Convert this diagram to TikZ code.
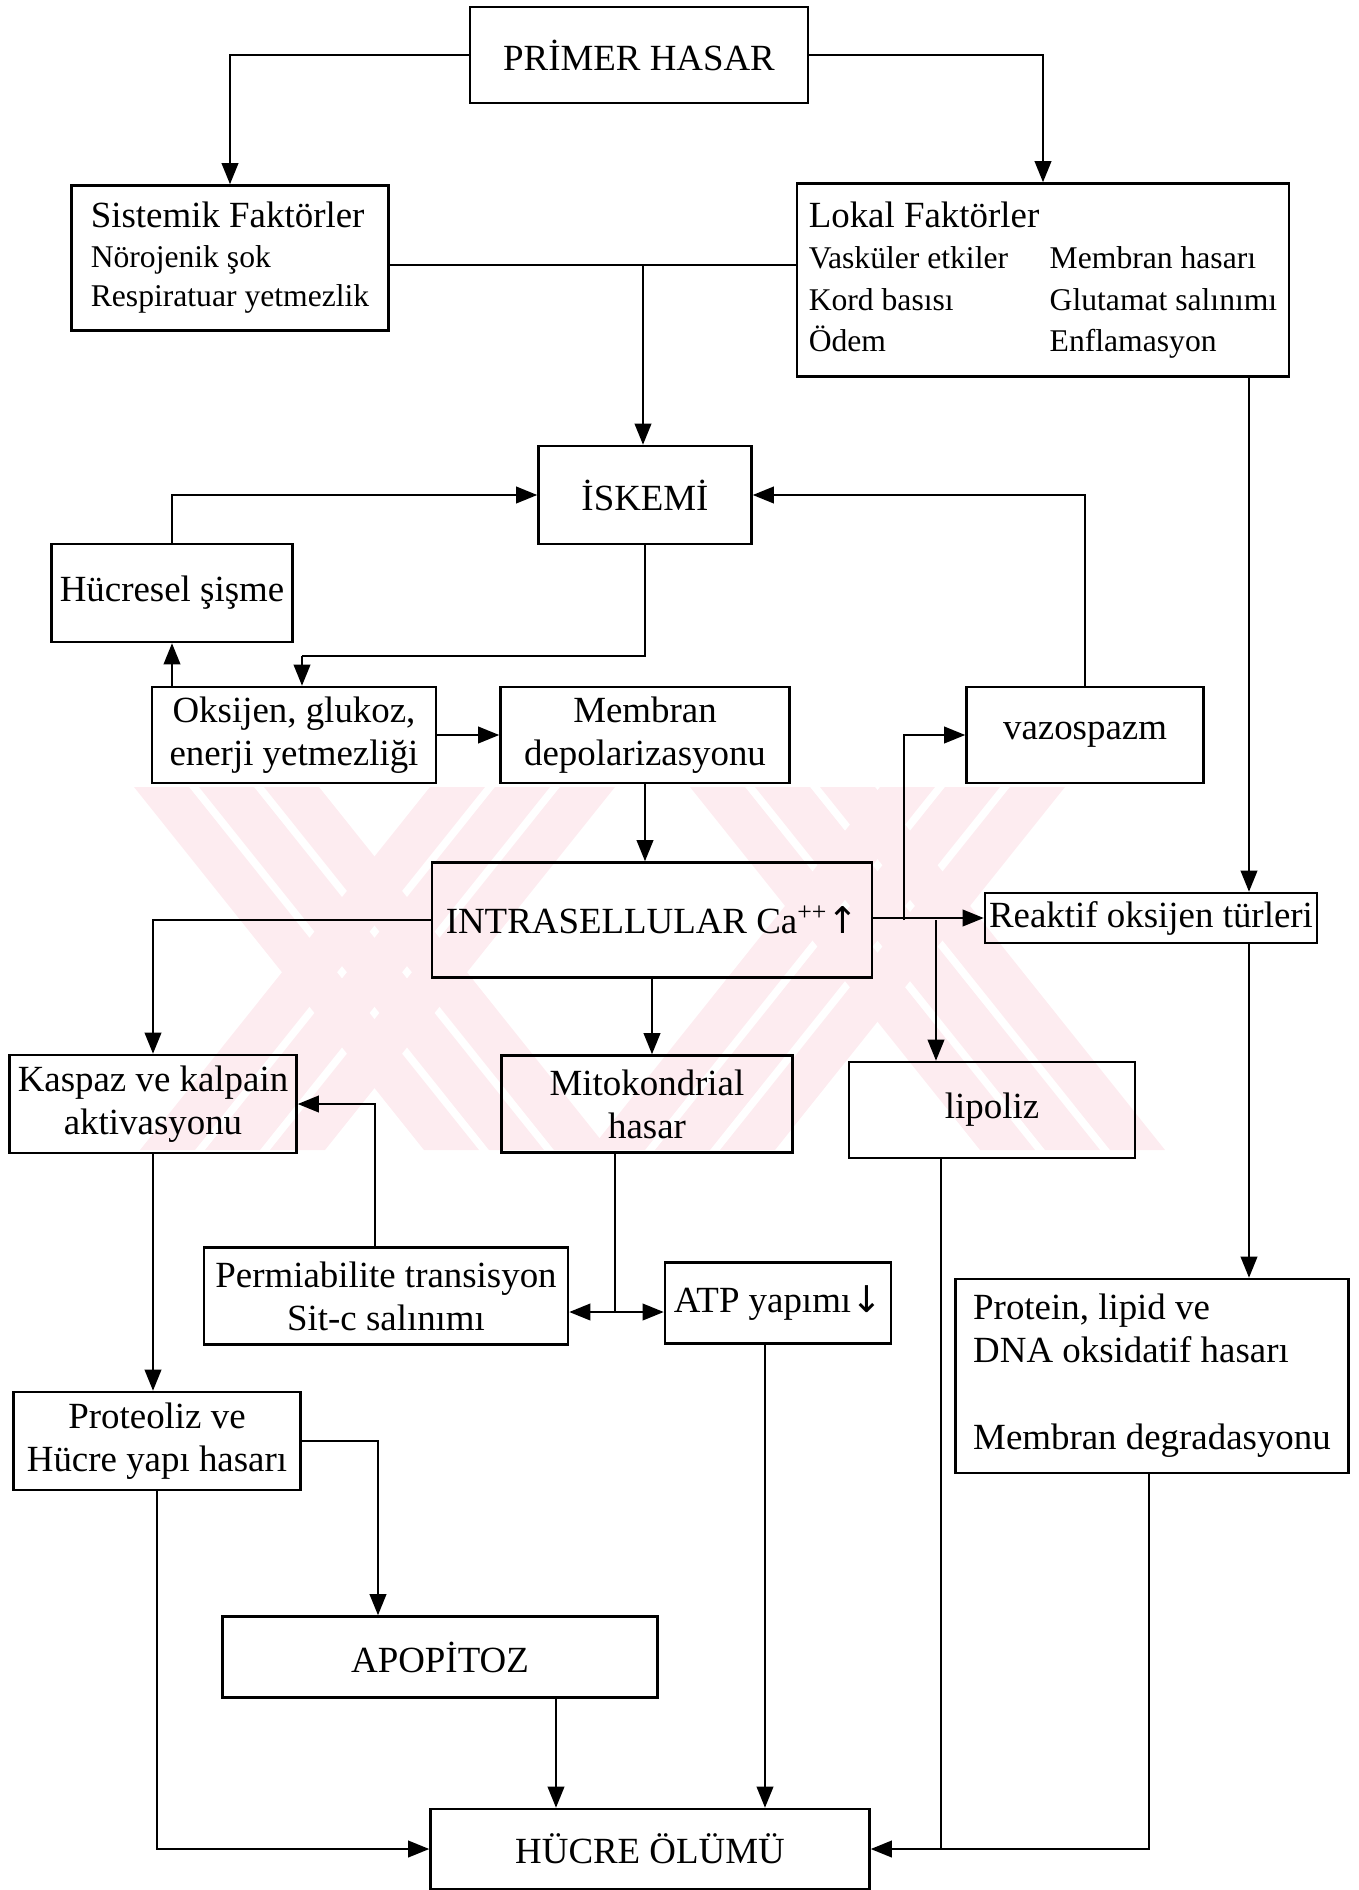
\documentclass[tikz,border=0pt]{standalone}
\usepackage{fontspec}
\setmainfont{Liberation Serif}
\newfontfamily\arrowfont{DejaVu Sans}
\usetikzlibrary{arrows.meta}
\definecolor{wmpink}{RGB}{253,236,240}

\begin{document}
\begin{tikzpicture}[x=0.02cm, y=-0.02cm,
    box/.style={draw, line width=1.5pt, inner sep=2pt, align=center, font=\fontsize{21}{24.5}\selectfont},
    link/.style={line width=1pt},
    arr/.style={link, -{Triangle[length=12pt, width=9.5pt]}},
    dblarr/.style={link, {Triangle[length=12pt, width=9.5pt]}-{Triangle[length=12pt, width=9.5pt]}}]
    \useasboundingbox (0,0) rectangle (1359,1890);
    \foreach \xa/\xb in {134/424, 430/140, 690/980, 880/590} {
        \foreach \o in {0,65,130} {
            \fill[wmpink] ({\xa+\o},787) -- ({\xa+\o+55},787) -- ({\xb+\o+55},1150) -- ({\xb+\o},1150) -- cycle;
        }
    }
    \node[box, minimum width=6.76cm, minimum height=1.92cm] (primer) at (639,55) {PRİMER HASAR};
    \node[box, align=left, minimum width=6.34cm, minimum height=2.9cm, font=\fontsize{18}{22.5}\selectfont] (sistemik) at (230,258)
        {{\fontsize{21}{22}\selectfont Sistemik Faktörler}\\Nörojenik şok\\Respiratuar yetmezlik};
    \node[box, align=left, minimum width=9.84cm, minimum height=3.86cm, font=\fontsize{18}{23.5}\selectfont] (lokal) at (1043,280)
        {{\fontsize{21}{22}\selectfont Lokal Faktörler}\\
         \makebox[4.82cm][l]{Vasküler etkiler}Membran hasarı\\
         \makebox[4.82cm][l]{Kord basısı}Glutamat salınımı\\
         \makebox[4.82cm][l]{Ödem}Enflamasyon};
    \node[box, minimum width=4.26cm, minimum height=1.96cm] (iskemi) at (645,495) {İSKEMİ};
    \node[box, minimum width=4.82cm, minimum height=1.96cm] (hucresel) at (172,593) {Hücresel şişme};
    \node[box, minimum width=5.68cm, minimum height=1.92cm] (oksijen) at (294,735) {Oksijen, glukoz,\\enerji yetmezliği};
    \node[box, minimum width=5.78cm, minimum height=1.92cm] (membran) at (645,735) {Membran\\depolarizasyonu};
    \node[box, minimum width=4.74cm, minimum height=1.92cm] (vazospazm) at (1085,735) {vazospazm};
    \node[box, minimum width=8.8cm, minimum height=2.3cm] (intra) at (652,920) {INTRASELLULAR Ca\textsuperscript{++}{\arrowfont ↑}};
    \node[box, inner sep=1pt, minimum width=6.64cm, minimum height=1.0cm] (reaktif) at (1151,918) {Reaktif oksijen türleri};
    \node[box, minimum width=5.74cm, minimum height=1.96cm] (kaspaz) at (153,1104) {Kaspaz ve kalpain\\aktivasyonu};
    \node[box, minimum width=5.82cm, minimum height=1.94cm] (mito) at (647,1104) {Mitokondrial\\hasar};
    \node[box, minimum width=5.72cm, minimum height=1.92cm] (lipoliz) at (992,1110) {lipoliz};
    \node[box, minimum width=7.28cm, minimum height=1.94cm] (perm) at (386,1296) {Permiabilite transisyon\\Sit-c salınımı};
    \node[box, minimum width=4.52cm, minimum height=1.62cm] (atp) at (778,1303) {ATP yapımı{\arrowfont ↓}};
    \node[box, align=left, minimum width=7.86cm, minimum height=3.88cm] (protein) at (1152,1376)
        {Protein, lipid ve\\DNA oksidatif hasarı\\[25pt]Membran degradasyonu};
    \node[box, minimum width=5.74cm, minimum height=1.96cm] (proteoliz) at (157,1441) {Proteoliz ve\\Hücre yapı hasarı};
    \node[box, minimum width=8.7cm, minimum height=1.62cm] (apopitoz) at (440,1657) {APOPİTOZ};
    \node[box, minimum width=8.78cm, minimum height=1.6cm] (hucre) at (650,1849) {HÜCRE ÖLÜMÜ};

    \coordinate (join) at (643,265);
    \coordinate (turn) at (302,656);
    \coordinate (rcol) at (1249,0);
    \coordinate (vcol) at (904,0);
    \coordinate (lcol) at (936,0);
    \coordinate (pcol) at (375,0);
    \coordinate (mcol) at (615,1312);
    \coordinate (acol) at (378,0);
    \coordinate (apcol) at (556,0);
    \coordinate (atcol) at (765,0);
    \coordinate (lpcol) at (941,0);
    \coordinate (prcol) at (1149,0);

    \draw[arr] (primer.west) -| (sistemik.north);
    \draw[arr] (primer.east) -| (lokal.north);
    \draw[link] (sistemik.east |- join) -- (lokal.west |- join);
    \draw[arr] (join) -- (join |- iskemi.north);
    \draw[arr] (hucresel.north) |- (iskemi.west);
    \draw[arr] (vazospazm.north) |- (iskemi.east);
    \draw[link] (iskemi.south) |- (turn);
    \draw[arr] (turn) -- (turn |- oksijen.north);
    \draw[arr] (oksijen.north -| hucresel.south) -- (hucresel.south);
    \draw[arr] (oksijen) -- (membran);
    \draw[arr] (membran.south) -- (membran.south |- intra.north);
    \draw[arr] (lokal.south -| rcol) -- (reaktif.north -| rcol);
    \draw[arr] (intra.east |- reaktif.west) -- (reaktif.west);
    \draw[arr] (intra.east -| vcol) |- (vazospazm.west);
    \draw[arr] (intra.east -| lcol) -- (lipoliz.north -| lcol);
    \draw[arr] (intra.south) -- (intra.south |- mito.north);
    \draw[arr] (intra.west) -| (kaspaz.north);
    \draw[arr] (reaktif.south -| rcol) -- (protein.north -| rcol);
    \draw[arr] (perm.north -| pcol) |- (kaspaz.east);
    \draw[link] (mito.south -| mcol) -- (mcol);
    \draw[dblarr] (perm.east |- mcol) -- (atp.west |- mcol);
    \draw[arr] (kaspaz.south) -- (kaspaz.south |- proteoliz.north);
    \draw[arr] (proteoliz.east) -| (apopitoz.north -| acol);
    \draw[arr] (proteoliz.south) |- (hucre.west);
    \draw[arr] (apopitoz.south -| apcol) -- (hucre.north -| apcol);
    \draw[arr] (atp.south -| atcol) -- (hucre.north -| atcol);
    \draw[link] (lipoliz.south -| lpcol) -- (lpcol |- hucre.east);
    \draw[arr] (protein.south -| prcol) |- (hucre.east);
\end{tikzpicture}
\end{document}
